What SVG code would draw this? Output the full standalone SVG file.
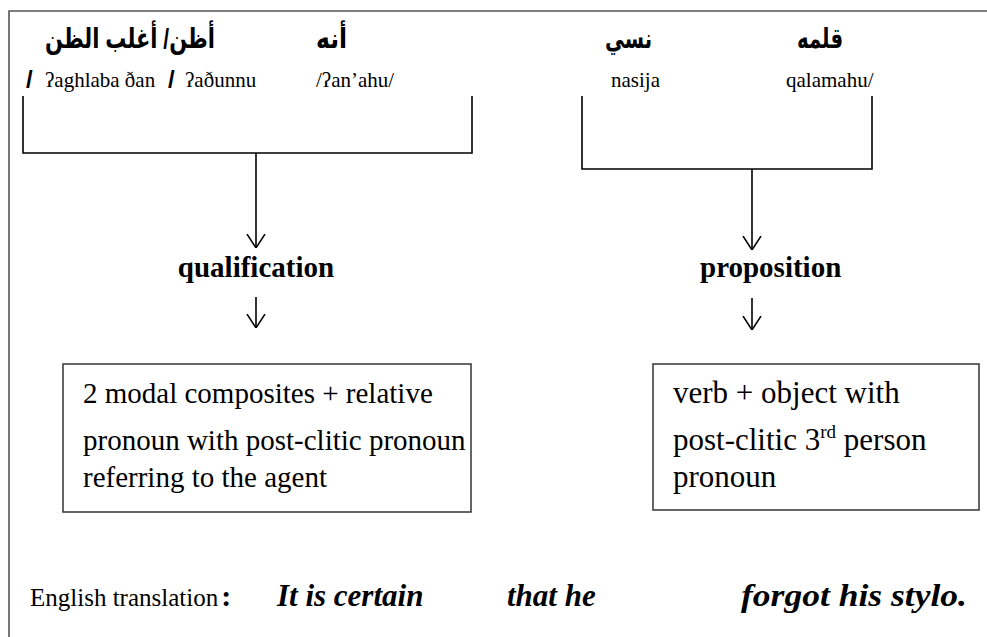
<svg xmlns="http://www.w3.org/2000/svg" width="987" height="637" viewBox="0 0 987 637">
<style>
.ar{font-family:"Liberation Sans","DejaVu Sans",sans-serif;font-weight:bold;font-size:28px;fill:#000}
.tr{font-family:"Liberation Serif","DejaVu Serif",serif;font-size:21px;fill:#000}
.sl{font-family:"Liberation Sans",sans-serif;font-weight:bold;font-size:24px;fill:#000}
.hd{font-family:"Liberation Serif",serif;font-weight:bold;font-size:29px;fill:#000}
.bx{font-family:"Liberation Serif",serif;font-size:29px;fill:#000}
.bx2{font-family:"Liberation Serif",serif;font-size:31px;fill:#000}
.en{font-family:"Liberation Serif",serif;font-size:25px;fill:#000}
.it{font-family:"Liberation Serif",serif;font-weight:bold;font-style:italic;font-size:31px;fill:#000}
.ln{fill:none;stroke:#000;stroke-width:1.6}
.box{fill:#fff;stroke:#333;stroke-width:1.5}
</style>
<defs>
<marker id="ah" viewBox="0 0 14 20" refX="14" refY="10" markerWidth="14" markerHeight="20" markerUnits="userSpaceOnUse" orient="auto">
<path d="M0,1 L14,10 L0,19" fill="none" stroke="#000" stroke-width="1.5"/>
</marker>
</defs>
<rect width="987" height="637" fill="#fff"/>
<path d="M9,637 V11 H987" fill="none" stroke="#555" stroke-width="1.6"/>

<g id="words-left">
<text class="ar" x="215" y="48" text-anchor="start" direction="rtl" textLength="170" lengthAdjust="spacingAndGlyphs">أظن/ أغلب الظن</text>
<text class="ar" x="347" y="48" text-anchor="start" direction="rtl" textLength="31" lengthAdjust="spacingAndGlyphs">أنه</text>
<text class="sl" x="26" y="88">/</text>
<text class="tr" x="45" y="87">ʔaghlaba ðan</text>
<text class="sl" x="168" y="88">/</text>
<text class="tr" x="185" y="87">ʔaðunnu</text>
<text class="tr" x="316" y="87">/ʔan’ahu/</text>
</g>
<g id="words-right">
<text class="ar" x="652" y="48" text-anchor="start" direction="rtl" textLength="47" lengthAdjust="spacingAndGlyphs">نسي</text>
<text class="ar" x="843" y="48" text-anchor="start" direction="rtl" textLength="46" lengthAdjust="spacingAndGlyphs">قلمه</text>
<text class="tr" x="611" y="87">nasija</text>
<text class="tr" x="786" y="87">qalamahu/</text>
</g>

<g id="connectors">
<path class="ln" d="M23,96 V153 H472 V96"/>
<path class="ln" d="M256,153 V248" marker-end="url(#ah)"/>
<path class="ln" d="M256,297 V328" marker-end="url(#ah)"/>
<path class="ln" d="M582,96 V169 H872 V96"/>
<path class="ln" d="M752,169 V250" marker-end="url(#ah)"/>
<path class="ln" d="M752,298 V330" marker-end="url(#ah)"/>
</g>

<g id="qualification">
<text class="hd" x="256" y="277" text-anchor="middle">qualification</text>
</g>
<g id="proposition">
<text class="hd" x="700" y="277">proposition</text>
</g>

<g id="box-left">
<rect class="box" x="63" y="364" width="408" height="148"/>
<text class="bx" x="83" y="403">2 modal composites + relative</text>
<text class="bx" x="83" y="450">pronoun with post-clitic pronoun</text>
<text class="bx" x="83" y="487">referring to the agent</text>
</g>
<g id="box-right">
<rect class="box" x="653" y="364" width="326" height="146"/>
<text class="bx2" x="673" y="403">verb + object with</text>
<text class="bx2" x="673" y="450">post-clitic 3<tspan font-size="19" dy="-12">rd</tspan><tspan dy="12"> person</tspan></text>
<text class="bx2" x="673" y="487">pronoun</text>
</g>

<g id="translation">
<text class="en" x="30" y="606">English translation<tspan font-weight="bold" font-size="30" dx="3">:</tspan></text>
<text class="it" x="277" y="606">It is certain</text>
<text class="it" x="507" y="606">that he</text>
<text class="it" x="741" y="606" textLength="226" lengthAdjust="spacingAndGlyphs">forgot his stylo.</text>
</g>
</svg>
